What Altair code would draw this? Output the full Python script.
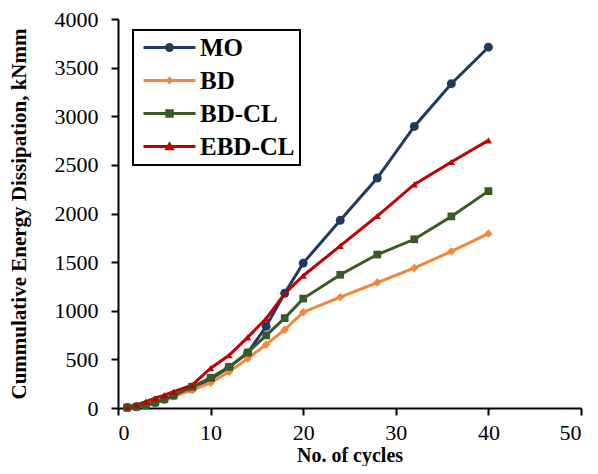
import altair as alt
import pandas as pd

cycles = [1, 2, 3, 4, 5, 6, 8, 10, 12, 14, 16, 18, 20, 24, 28, 32, 36, 40]
mo = [5, 12, 30, 55, 90, 130, 200, 295, 420, 566, 840, 1180, 1490, 1930, 2365, 2895, 3335, 3710]
bd = [3, 12, 28, 55, 85, 120, 185, 260, 372, 508, 652, 805, 985, 1140, 1290, 1440, 1610, 1793]
bd_cl = [4, 14, 32, 58, 92, 128, 218, 310, 423, 570, 747, 924, 1125, 1370, 1578, 1735, 1970, 2230]
ebd_cl = [8, 31, 65, 100, 133, 167, 235, 409, 542, 726, 920, 1176, 1360, 1667, 1974, 2299, 2530, 2752]

series_names = ["MO", "BD", "BD-CL", "EBD-CL"]
series_values = [mo, bd, bd_cl, ebd_cl]
colors = ["#203864", "#F2863A", "#3A5A24", "#C00000"]
shapes = ["circle", "diamond", "square", "triangle-up"]
sizes = [80, 50, 72, 95]

x_ticks = [0, 10, 20, 30, 40, 50]
y_ticks = [0, 500, 1000, 1500, 2000, 2500, 3000, 3500, 4000]

rows = []
for name, vals in zip(series_names, series_values):
    for c, v in zip(cycles, vals):
        rows.append({"cycle": c, "energy": v, "series": name})
df = pd.DataFrame(rows)

FONT = "Liberation Serif"

# legend symbols: a line segment with the series marker on it
line_part = "M-2.08,-0.12H2.08V0.12H-2.08Z"
legend_shapes = [
    line_part + "M-0.36,0A0.36,0.36 0 1,1 0.36,0A0.36,0.36 0 1,1 -0.36,0Z",
    line_part + "M0,-0.32L0.32,0L0,0.32L-0.32,0Z",
    line_part + "M-0.34,-0.34H0.34V0.34H-0.34Z",
    line_part + "M0,-0.42L0.42,0.3H-0.42Z",
]

legend = alt.Legend(
    title=None,
    orient="none",
    legendX=15,
    legendY=11,
    padding=5,
    rowPadding=7,
    symbolSize=625,
    symbolOffset=19,
    labelOffset=18,
    symbolStrokeWidth=0,
    symbolOpacity=1,
    labelFont=FONT,
    labelFontSize=25,
    labelFontWeight="bold",
    labelColor="black",
    strokeColor="black",
    fillColor="white",
)

color_scale = alt.Scale(domain=series_names, range=colors)

x_enc = alt.X(
    "cycle:Q",
    scale=alt.Scale(domain=[0, 50], nice=False),
    axis=alt.Axis(values=x_ticks, title="No. of cycles", titlePadding=2, labelPadding=7,
                  titleFontSize=20),
)
y_enc = alt.Y(
    "energy:Q",
    scale=alt.Scale(domain=[0, 4000], nice=False),
    axis=alt.Axis(values=y_ticks, format="d", title="Cummulative Energy Dissipation, kNmm",
                  titlePadding=25, labelPadding=13),
)

lines = alt.Chart(df).mark_line(strokeWidth=3).encode(
    x=x_enc,
    y=y_enc,
    color=alt.Color("series:N", scale=color_scale, legend=None),
    detail="series:N",
)

points = alt.Chart(df).mark_point(filled=True, opacity=1).encode(
    x=x_enc,
    y=y_enc,
    color=alt.Color("series:N", scale=color_scale, legend=None),
    shape=alt.Shape("series:N", scale=alt.Scale(domain=series_names, range=shapes), legend=None),
    size=alt.Size("series:N", scale=alt.Scale(domain=series_names, range=sizes), legend=None),
)

legend_layer = alt.Chart(df).transform_filter("false").mark_point(filled=True, opacity=1).encode(
    x=x_enc,
    y=y_enc,
    color=alt.Color("series:N", scale=alt.Scale(domain=series_names, range=colors), legend=legend),
    shape=alt.Shape("series:N", scale=alt.Scale(domain=series_names, range=legend_shapes), legend=legend),
)

chart = (
    alt.layer(lines, points, legend_layer)
    .resolve_scale(color="independent", shape="independent")
    .properties(
        width=463,
        height=389,
        padding={"left": 110, "top": 11, "right": 9, "bottom": 58},
        autosize=alt.AutoSizeParams(type="none"),
    )
    .configure_view(stroke=None)
    .configure_legend(strokeWidth=2)
    .configure_axis(
        grid=False,
        domainColor="black",
        domainWidth=2,
        tickColor="black",
        tickWidth=2,
        tickSize=7,
        labelFont=FONT,
        labelFontSize=22,
        labelColor="black",
        titleFont=FONT,
        titleFontSize=21,
        titleFontWeight="bold",
        titleColor="black",
    )
)

chart.save("out.html", embed_options={"renderer": "svg", "actions": False})
